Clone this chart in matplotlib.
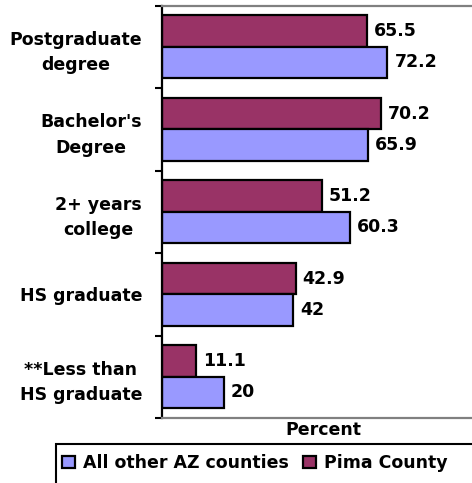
import matplotlib
matplotlib.use("Agg")
import matplotlib.pyplot as plt
from matplotlib.patches import Rectangle
import numpy as np

# education level, top to bottom
categories = ["Postgraduate\ndegree", "Bachelor's\nDegree", "2+ years\ncollege",
              "HS graduate", "**Less than\nHS graduate"]
pima = [65.5, 70.2, 51.2, 42.9, 11.1]
other_az = [72.2, 65.9, 60.3, 42, 20]

plt.rcParams['font.family'] = ['DejaVu Sans']
plt.rcParams['font.weight'] = 'bold'
fs = 12.5
W, H = 472, 483

fig = plt.figure(figsize=(W/100, H/100), dpi=100)
ax = fig.add_axes([161.5/W, 1 - 418/H, 313/W, (418 - 5.5)/H])

y = np.arange(len(categories))
h = 0.38
b_pima = ax.barh(y - h/2, pima, height=h, color='#993366', edgecolor='black',
                 linewidth=1.6, label='Pima County')
b_other = ax.barh(y + h/2, other_az, height=h, color='#9999FF', edgecolor='black',
                  linewidth=1.6, label='All other AZ counties')

for bars, vals in [(b_pima, pima), (b_other, other_az)]:
    for bar, v in zip(bars, vals):
        ax.annotate(f"{v:g}", (bar.get_width(), bar.get_y() + bar.get_height()/2),
                    xytext=(5, 0), textcoords='offset points', va='center',
                    ha='left', fontsize=fs, fontweight='bold')

ax.set_xlim(0, 100)
ax.set_ylim(len(categories) - 0.5, -0.5)

# ticks at group edges, labels at group centres
ax.set_yticks(np.arange(len(categories) + 1) - 0.5)
ax.set_yticklabels([])
ax.set_yticks(y, minor=True)
ax.set_yticklabels(categories, minor=True, fontsize=fs, fontweight='bold',
                   multialignment='center', linespacing=1.55)
ax.tick_params(axis='y', which='major', length=5, width=1.5, direction='out')
ax.tick_params(axis='y', which='minor', length=0, pad=14)
ax.set_xticks([])

ax.spines['left'].set_linewidth(1.6)
ax.spines['left'].set_color('black')
for s in ['top', 'bottom']:
    ax.spines[s].set_color('#808080')
    ax.spines[s].set_linewidth(1.6)
ax.spines['right'].set_visible(False)

ax.set_xlabel('Percent', fontsize=fs, fontweight='bold')
ax.xaxis.set_label_coords(0.516, -0.008, transform=ax.transAxes)
ax.xaxis.label.set_va('top')

# legend box runs off the right edge, like the original
fig.patches.append(Rectangle((56/W, -0.05), 1.0, 1 - 444/H + 0.05,
                             transform=fig.transFigure, fill=False,
                             edgecolor='black', linewidth=1.5))
handles = [b_other, b_pima]
leg = fig.legend(handles, [hd.get_label() for hd in handles], ncol=2,
                 loc='center left', bbox_to_anchor=(62/W, 1 - 463/H),
                 frameon=False, prop={'weight': 'bold', 'size': fs},
                 handlelength=0.75, handleheight=0.75, handletextpad=0.45,
                 columnspacing=0.85, borderpad=0, borderaxespad=0)

fig.savefig('out.png', dpi=100)
